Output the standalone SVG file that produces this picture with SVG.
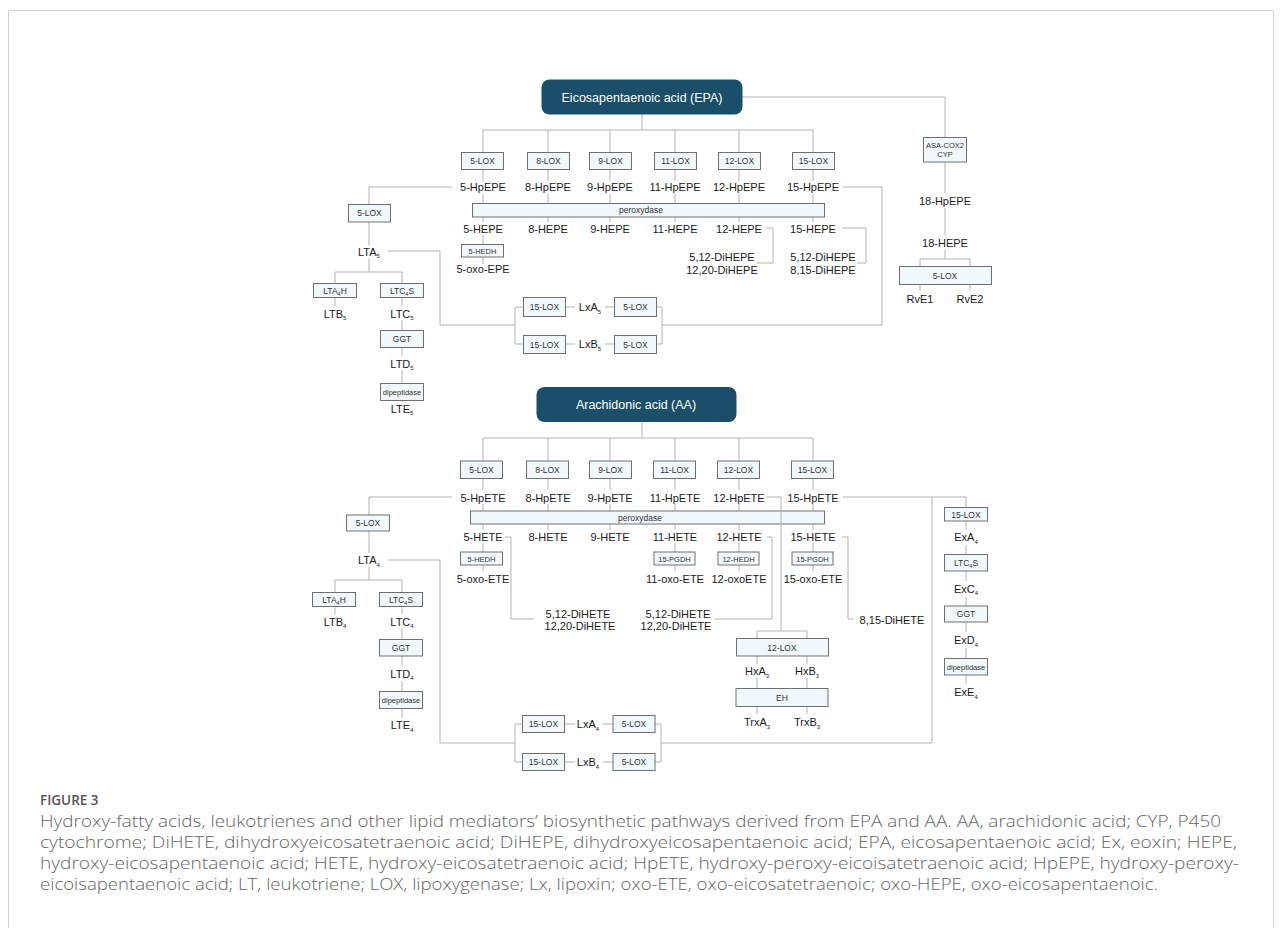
<svg xmlns="http://www.w3.org/2000/svg" width="1282" height="928" viewBox="0 0 1282 928">
<style>
.c{stroke:#b3b3b3;stroke-width:1;fill:none}
.fr{stroke:#d0d0d0;stroke-width:1;fill:none}
.b{fill:#f1f8fc;stroke:#707070;stroke-width:1}
.h{fill:#1b4f69}
text{font-family:"Liberation Sans",Arial,sans-serif;text-anchor:middle}
.t{font-size:11px;fill:#1a1a1a}
.s{font-size:8.5px;fill:#333}
.xs{font-size:7.5px;fill:#333}
.ht{font-size:12.5px;fill:#fff}
.cap{font-family:"Open Sans","Liberation Sans",sans-serif;text-anchor:start;font-size:16.5px;font-weight:300;fill:#666}
.fig{font-family:"Open Sans","Liberation Sans",sans-serif;text-anchor:start;font-size:13.5px;font-weight:600;fill:#555}
</style>
<rect width="1282" height="928" fill="#fff"/>
<path class="fr" d="M8.5 928V10.5H1273.5V928"/>

<g id="connectors">
<path class="c" d="M642 114V130M483 130H813"/>
<path class="c" d="M483 130V152M548 130V152M610 130V152M675 130V152M739 130V152M813 130V152"/>
<path class="c" d="M483 169V181M548 169V181M610 169V181M675 169V181M739 169V181M813 169V181"/>
<path class="c" d="M483 194V203M548 194V203M610 194V203M675 194V203M739 194V203M813 194V203"/>
<path class="c" d="M483 217V222M548 217V222M610 217V222M675 217V222M739 217V222M813 217V222"/>
<path class="c" d="M483 235V244.5M483 257V264"/>
<path class="c" d="M452 187H369V204M369 222V245M369 259V272M335 272H402M335 272V283M402 272V283M335 297V306M402 297V306M402 320V330M402 347V356M402 370V383M402 400V402"/>
<path class="c" d="M388 251H440V325H515M515 307V344M515 307H523M515 344H523M566 307H575M605 307H614M566 344H575M605 344H614M657 307H662V344H657M662 325H882V187H843"/>
<path class="c" d="M766 228H773V263H757M842 228H866V263H857"/>
<path class="c" d="M742 97H945V137M945 162V193M945 208V235M945 250V259M920 259H970M920 259V266M970 259V266M920 284V291M970 284V291"/>
<path class="c" d="M642 422V438M483 438H813"/>
<path class="c" d="M483 438V461M548 438V461M610 438V461M675 438V461M739 438V461M813 438V461"/>
<path class="c" d="M483 478.5V490M548 478.5V490M610 478.5V490M675 478.5V490M739 478.5V490M813 478.5V490"/>
<path class="c" d="M483 504V511M548 504V511M610 504V511M675 504V511M739 504V511M813 504V511"/>
<path class="c" d="M483 524V530M548 524V530M610 524V530M675 524V530M739 524V530M813 524V530"/>
<path class="c" d="M483 543V552M483 565V571M675 543V552M675 565V571M739 543V552M739 565V571M813 543V552M813 565V571"/>
<path class="c" d="M452 497H369V515M369 531V553M369 567V580M335 580H402M335 580V592M402 580V592M335 606V614M402 606V614M402 628V639M402 656V666M402 681V691M402 708V718"/>
<path class="c" d="M388 560H440V743H515M515 724V762M515 724H522M515 762H522M564 724H575M603 724H613M564 762H575M603 762H613M655 724H661V762H655M661 743H932V497M843 497H966V507"/>
<path class="c" d="M966 521V530M966 545V554M966 571V581M966 597V606M966 622V632M966 648V658M966 675V684"/>
<path class="c" d="M505 537H511V619H534M767 537H772V619H715M842 537H848V619H854"/>
<path class="c" d="M757 656V664M807 656V664M757 678V688M807 678V688M757 707V714M807 707V714"/>
</g>

<g id="epa"><rect class="h" x="541.5" y="79.5" width="201" height="35" rx="8"/><text class="ht" x="642" y="101.5">Eicosapentaenoic acid (EPA)</text></g>
<g id="epa-5lox"><rect class="b" x="461.5" y="152.5" width="42" height="17"/><text class="s" x="482.5" y="164">5-LOX</text></g>
<g id="epa-8lox"><rect class="b" x="527.5" y="152.5" width="42" height="17"/><text class="s" x="548.5" y="164">8-LOX</text></g>
<g id="epa-9lox"><rect class="b" x="589.5" y="152.5" width="42" height="17"/><text class="s" x="610.5" y="164">9-LOX</text></g>
<g id="epa-11lox"><rect class="b" x="654.5" y="152.5" width="42" height="17"/><text class="s" x="675.5" y="164">11-LOX</text></g>
<g id="epa-12lox"><rect class="b" x="718.5" y="152.5" width="42" height="17"/><text class="s" x="739.5" y="164">12-LOX</text></g>
<g id="epa-15lox"><rect class="b" x="792.5" y="152.5" width="42" height="17"/><text class="s" x="813.5" y="164">15-LOX</text></g>
<g id="hpepe"><text class="t" x="483" y="191">5-HpEPE</text><text class="t" x="548" y="191">8-HpEPE</text><text class="t" x="610" y="191">9-HpEPE</text><text class="t" x="675" y="191">11-HpEPE</text><text class="t" x="739" y="191">12-HpEPE</text><text class="t" x="813" y="191">15-HpEPE</text></g>
<g id="epa-perox"><rect class="b" x="472.5" y="203.5" width="352" height="13.5"/><text class="s" x="641" y="213">peroxydase</text></g>
<g id="hepe"><text class="t" x="483" y="232.5">5-HEPE</text><text class="t" x="548" y="232.5">8-HEPE</text><text class="t" x="610" y="232.5">9-HEPE</text><text class="t" x="675" y="232.5">11-HEPE</text><text class="t" x="739" y="232.5">12-HEPE</text><text class="t" x="813" y="232.5">15-HEPE</text></g>
<g id="epa-5hedh"><rect class="b" x="461.5" y="244.5" width="42" height="12.5"/><text class="xs" x="482.5" y="253.5">5-HEDH</text></g>
<g id="oxo-epe"><text class="t" x="483" y="273">5-oxo-EPE</text></g>
<g id="dihepe1"><text class="t" x="722" y="261">5,12-DiHEPE</text><text class="t" x="722" y="274">12,20-DiHEPE</text></g>
<g id="dihepe2"><text class="t" x="823" y="261">5,12-DiHEPE</text><text class="t" x="823" y="274">8,15-DiHEPE</text></g>
<g id="epa-l5lox"><rect class="b" x="348.5" y="204.5" width="42" height="17.5"/><text class="s" x="369.5" y="216">5-LOX</text></g>
<g id="lta5"><text class="t" x="369" y="255.5">LTA<tspan font-size="6" dy="2.5">5</tspan></text></g>
<g id="epa-lta4h"><rect class="b" x="313.5" y="283.5" width="43" height="14"/><text class="s" x="335" y="293.5">LTA<tspan font-size="5.5" dy="2">4</tspan><tspan dy="-2">H</tspan></text></g>
<g id="epa-ltc4s"><rect class="b" x="380.5" y="283.5" width="43" height="14"/><text class="s" x="402" y="293.5">LTC<tspan font-size="5.5" dy="2">4</tspan><tspan dy="-2">S</tspan></text></g>
<g id="ltb5"><text class="t" x="335" y="317.5">LTB<tspan font-size="6" dy="2.5">5</tspan></text></g>
<g id="ltc5"><text class="t" x="402" y="317.5">LTC<tspan font-size="6" dy="2.5">5</tspan></text></g>
<g id="epa-ggt"><rect class="b" x="380.5" y="330.5" width="43" height="17"/><text class="s" x="402" y="342">GGT</text></g>
<g id="ltd5"><text class="t" x="402" y="367.5">LTD<tspan font-size="6" dy="2.5">5</tspan></text></g>
<g id="epa-dip"><rect class="b" x="380.5" y="383.5" width="43" height="17"/><text class="xs" x="402" y="395">dipeptidase</text></g>
<g id="lte5"><text class="t" x="402" y="412.5">LTE<tspan font-size="6" dy="2.5">5</tspan></text></g>
<g id="epa-lxa-15lox"><rect class="b" x="523.5" y="297.5" width="42" height="19"/><text class="s" x="544.5" y="310">15-LOX</text></g>
<g id="lxa5"><text class="t" x="590" y="311">LxA<tspan font-size="6" dy="2.5">5</tspan></text></g>
<g id="epa-lxa-5lox"><rect class="b" x="614.5" y="297.5" width="42" height="19"/><text class="s" x="635.5" y="310">5-LOX</text></g>
<g id="epa-lxb-15lox"><rect class="b" x="523.5" y="335.5" width="42" height="18"/><text class="s" x="544.5" y="347.5">15-LOX</text></g>
<g id="lxb5"><text class="t" x="590" y="348">LxB<tspan font-size="6" dy="2.5">5</tspan></text></g>
<g id="epa-lxb-5lox"><rect class="b" x="614.5" y="335.5" width="42" height="18"/><text class="s" x="635.5" y="347.5">5-LOX</text></g>
<g id="asa"><rect class="b" x="923.5" y="137.5" width="43" height="24.5"/><text class="xs" x="945" y="147.5">ASA-COX2</text><text class="xs" x="945" y="157">CYP</text></g>
<g id="hpepe18"><text class="t" x="945" y="205">18-HpEPE</text></g>
<g id="hepe18"><text class="t" x="945" y="247">18-HEPE</text></g>
<g id="rve-5lox"><rect class="b" x="899.5" y="266.5" width="92" height="18"/><text class="s" x="945" y="278.5">5-LOX</text></g>
<g id="rve1"><text class="t" x="920" y="302.5">RvE1</text></g>
<g id="rve2"><text class="t" x="970" y="302.5">RvE2</text></g>

<g id="aa"><rect class="h" x="536.5" y="387" width="200" height="35" rx="8"/><text class="ht" x="636" y="409">Arachidonic acid (AA)</text></g>
<g id="aa-5lox"><rect class="b" x="460.5" y="461" width="42" height="17.5"/><text class="s" x="481.5" y="472.5">5-LOX</text></g>
<g id="aa-8lox"><rect class="b" x="526.5" y="461" width="42" height="17.5"/><text class="s" x="547.5" y="472.5">8-LOX</text></g>
<g id="aa-9lox"><rect class="b" x="589.5" y="461" width="42" height="17.5"/><text class="s" x="610.5" y="472.5">9-LOX</text></g>
<g id="aa-11lox"><rect class="b" x="653.5" y="461" width="42" height="17.5"/><text class="s" x="674.5" y="472.5">11-LOX</text></g>
<g id="aa-12lox"><rect class="b" x="717.5" y="461" width="42" height="17.5"/><text class="s" x="738.5" y="472.5">12-LOX</text></g>
<g id="aa-15lox"><rect class="b" x="791.5" y="461" width="42" height="17.5"/><text class="s" x="812.5" y="472.5">15-LOX</text></g>
<g id="hpete"><text class="t" x="483" y="501.5">5-HpETE</text><text class="t" x="548" y="501.5">8-HpETE</text><text class="t" x="610" y="501.5">9-HpETE</text><text class="t" x="675" y="501.5">11-HpETE</text><text class="t" x="739" y="501.5">12-HpETE</text><text class="t" x="813" y="501.5">15-HpETE</text></g>
<g id="aa-perox"><rect class="b" x="470.5" y="511" width="354" height="13"/><text class="s" x="640" y="520.5">peroxydase</text></g>
<path class="c" d="M766 497H781V631M757 631H807M757 631V638M807 631V638"/>
<g id="hete"><text class="t" x="483" y="541">5-HETE</text><text class="t" x="548" y="541">8-HETE</text><text class="t" x="610" y="541">9-HETE</text><text class="t" x="675" y="541">11-HETE</text><text class="t" x="739" y="541">12-HETE</text><text class="t" x="813" y="541">15-HETE</text></g>
<g id="aa-5hedh"><rect class="b" x="460.5" y="552" width="42" height="13"/><text class="xs" x="481.5" y="561.5">5-HEDH</text></g>
<g id="aa-15pgdh1"><rect class="b" x="654" y="552" width="41" height="13"/><text class="xs" x="674.5" y="561.5">15-PGDH</text></g>
<g id="aa-12hedh"><rect class="b" x="718" y="552" width="41" height="13"/><text class="xs" x="738.5" y="561.5">12-HEDH</text></g>
<g id="aa-15pgdh2"><rect class="b" x="792" y="552" width="41" height="13"/><text class="xs" x="812.5" y="561.5">15-PGDH</text></g>
<g id="oxo-ete"><text class="t" x="483" y="582.5">5-oxo-ETE</text><text class="t" x="675" y="582.5">11-oxo-ETE</text><text class="t" x="739" y="582.5">12-oxoETE</text><text class="t" x="813" y="582.5">15-oxo-ETE</text></g>
<g id="dihete1"><text class="t" x="578" y="617.5">5,12-DiHETE</text><text class="t" x="580" y="630">12,20-DiHETE</text></g>
<g id="dihete2"><text class="t" x="678" y="617.5">5,12-DiHETE</text><text class="t" x="676" y="630">12,20-DiHETE</text></g>
<g id="dihete3"><text class="t" x="892" y="623.5">8,15-DiHETE</text></g>
<g id="aa-12lox-hx"><rect class="b" x="736.5" y="638.5" width="92" height="17.5"/><text class="s" x="782" y="650.5">12-LOX</text></g>
<g id="hxa3"><text class="t" x="757" y="675">HxA<tspan font-size="6" dy="2.5">3</tspan></text></g>
<g id="hxb3"><text class="t" x="807" y="675">HxB<tspan font-size="6" dy="2.5">3</tspan></text></g>
<g id="aa-eh"><rect class="b" x="736" y="688.5" width="92" height="18"/><text class="s" x="782" y="700.5">EH</text></g>
<g id="trxa3"><text class="t" x="757" y="726">TrxA<tspan font-size="6" dy="2.5">3</tspan></text></g>
<g id="trxb3"><text class="t" x="807" y="726">TrxB<tspan font-size="6" dy="2.5">3</tspan></text></g>
<g id="aa-l5lox"><rect class="b" x="346.5" y="515" width="43" height="16"/><text class="s" x="368" y="526">5-LOX</text></g>
<g id="lta4"><text class="t" x="369" y="564">LTA<tspan font-size="6" dy="2.5">4</tspan></text></g>
<g id="aa-lta4h"><rect class="b" x="312.5" y="592.5" width="43" height="14"/><text class="s" x="334" y="602.5">LTA<tspan font-size="5.5" dy="2">4</tspan><tspan dy="-2">H</tspan></text></g>
<g id="aa-ltc4s"><rect class="b" x="379.5" y="592.5" width="43" height="14"/><text class="s" x="401" y="602.5">LTC<tspan font-size="5.5" dy="2">4</tspan><tspan dy="-2">S</tspan></text></g>
<g id="ltb4"><text class="t" x="335" y="625.5">LTB<tspan font-size="6" dy="2.5">4</tspan></text></g>
<g id="ltc4"><text class="t" x="402" y="625.5">LTC<tspan font-size="6" dy="2.5">4</tspan></text></g>
<g id="aa-ggt"><rect class="b" x="379.5" y="639.5" width="43" height="16.5"/><text class="s" x="401" y="651">GGT</text></g>
<g id="ltd4"><text class="t" x="402" y="677.5">LTD<tspan font-size="6" dy="2.5">4</tspan></text></g>
<g id="aa-dip"><rect class="b" x="379.5" y="691.5" width="43" height="17"/><text class="xs" x="401" y="703">dipeptidase</text></g>
<g id="lte4"><text class="t" x="402" y="729">LTE<tspan font-size="6" dy="2.5">4</tspan></text></g>
<g id="aa-lxa-15lox"><rect class="b" x="522.5" y="715.5" width="42" height="17"/><text class="s" x="543.5" y="727">15-LOX</text></g>
<g id="lxa4"><text class="t" x="588" y="728">LxA<tspan font-size="6" dy="2.5">4</tspan></text></g>
<g id="aa-lxa-5lox"><rect class="b" x="613" y="715.5" width="42" height="17"/><text class="s" x="634" y="727">5-LOX</text></g>
<g id="aa-lxb-15lox"><rect class="b" x="522.5" y="753.5" width="42" height="17"/><text class="s" x="543.5" y="765">15-LOX</text></g>
<g id="lxb4"><text class="t" x="588" y="766">LxB<tspan font-size="6" dy="2.5">4</tspan></text></g>
<g id="aa-lxb-5lox"><rect class="b" x="613" y="753.5" width="42" height="17"/><text class="s" x="634" y="765">5-LOX</text></g>
<g id="ex-15lox"><rect class="b" x="944.5" y="507.5" width="43" height="13.5"/><text class="s" x="966" y="517.5">15-LOX</text></g>
<g id="exa4"><text class="t" x="966" y="541">ExA<tspan font-size="6" dy="2.5">4</tspan></text></g>
<g id="ex-ltc4s"><rect class="b" x="944.5" y="554.5" width="43" height="16.5"/><text class="s" x="966" y="566">LTC<tspan font-size="5.5" dy="2">4</tspan><tspan dy="-2">S</tspan></text></g>
<g id="exc4"><text class="t" x="966" y="592.5">ExC<tspan font-size="6" dy="2.5">4</tspan></text></g>
<g id="ex-ggt"><rect class="b" x="944.5" y="606" width="43" height="16"/><text class="s" x="966" y="617">GGT</text></g>
<g id="exd4"><text class="t" x="966" y="644">ExD<tspan font-size="6" dy="2.5">4</tspan></text></g>
<g id="ex-dip"><rect class="b" x="944.5" y="658.5" width="43" height="16.5"/><text class="xs" x="966" y="670">dipeptidase</text></g>
<g id="exe4"><text class="t" x="966" y="696">ExE<tspan font-size="6" dy="2.5">4</tspan></text></g>

<g id="caption">
<text class="fig" x="40" y="805">FIGURE 3</text>
<text class="cap" x="40" y="827" textLength="1181" lengthAdjust="spacingAndGlyphs">Hydroxy-fatty acids, leukotrienes and other lipid mediators’ biosynthetic pathways derived from EPA and AA. AA, arachidonic acid; CYP, P450</text>
<text class="cap" x="40" y="848" textLength="1197" lengthAdjust="spacingAndGlyphs">cytochrome; DiHETE, dihydroxyeicosatetraenoic acid; DiHEPE, dihydroxyeicosapentaenoic acid; EPA, eicosapentaenoic acid; Ex, eoxin; HEPE,</text>
<text class="cap" x="40" y="869" textLength="1199" lengthAdjust="spacingAndGlyphs">hydroxy-eicosapentaenoic acid; HETE, hydroxy-eicosatetraenoic acid; HpETE, hydroxy-peroxy-eicoisatetraenoic acid; HpEPE, hydroxy-peroxy-</text>
<text class="cap" x="40" y="890" textLength="1118" lengthAdjust="spacingAndGlyphs">eicoisapentaenoic acid; LT, leukotriene; LOX, lipoxygenase; Lx, lipoxin; oxo-ETE, oxo-eicosatetraenoic; oxo-HEPE, oxo-eicosapentaenoic.</text>
</g>
</svg>
